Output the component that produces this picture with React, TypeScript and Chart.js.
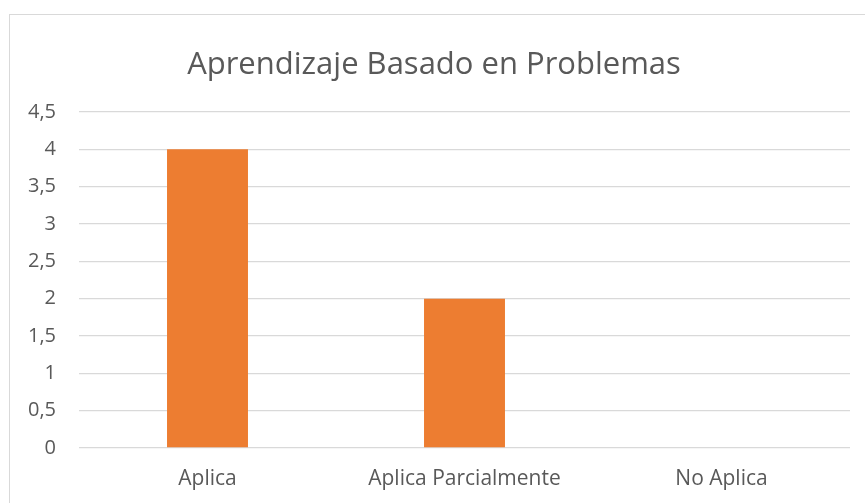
import React, { useEffect, useRef } from "react";
import { Chart, registerables } from "chart.js";

Chart.register(...registerables);

const titleText = "Aprendizaje Basado en Problemas";
const categories = ["Aplica", "Aplica Parcialmente", "No Aplica"];
const values = [4, 2, 0];
const yMin = 0;
const yMax = 4.5;
const yStep = 0.5;

const FONT = '"Open Sans", "Noto Sans", sans-serif';
const TEXT_COLOR = "#595959";
const GRID_COLOR = "#d9d9d9";
const BAR_COLOR = "#ED7D31";

const framePlugin = {
  id: "frame",
  beforeDraw(chart: any) {
    const ctx = chart.ctx;
    ctx.save();
    ctx.fillStyle = "#ffffff";
    ctx.fillRect(0, 0, chart.width, chart.height);
    ctx.strokeStyle = GRID_COLOR;
    ctx.lineWidth = 1;
    ctx.strokeRect(9.5, 14.5, chart.width + 10, chart.height + 10);
    ctx.fillStyle = TEXT_COLOR;
    ctx.font = `31px ${FONT}`;
    ctx.textAlign = "center";
    ctx.textBaseline = "alphabetic";
    ctx.fillText(titleText, 434, 74);
    ctx.restore();
  },
};

export default function App() {
  const ref = useRef<HTMLCanvasElement | null>(null);

  useEffect(() => {
    let chart: Chart | null = null;
    let cancelled = false;
    const make = () => {
      if (cancelled || !ref.current) return;
      chart = new Chart(ref.current, {
        type: "bar",
        data: {
          labels: categories,
          datasets: [
            {
              data: values,
              backgroundColor: BAR_COLOR,
              borderWidth: 0,
              categoryPercentage: 1,
              barPercentage: 0.315,
            },
          ],
        },
        options: {
          responsive: false,
          animation: false,
          devicePixelRatio: 1,
          layout: { padding: { top: 112, right: 15, bottom: 0, left: 0 } },
          plugins: {
            legend: { display: false },
            title: { display: false },
            tooltip: { enabled: false },
          },
          scales: {
            x: {
              afterFit: (s: any) => {
                s.height = 55;
              },
              grid: { display: false, drawTicks: false },
              border: { display: false },
              ticks: {
                color: TEXT_COLOR,
                font: { family: FONT, size: 21 },
                padding: 18,
                maxRotation: 0,
                autoSkip: false,
              },
            },
            y: {
              min: yMin,
              max: yMax,
              afterFit: (s: any) => {
                s.width = 79;
              },
              grid: { color: GRID_COLOR, lineWidth: 1.3, drawTicks: false },
              border: { display: false },
              ticks: {
                stepSize: yStep,
                color: TEXT_COLOR,
                font: { family: FONT, size: 20 },
                padding: 23,
                callback: (v: any) => String(v).replace(".", ","),
              },
            },
          },
        },
        plugins: [framePlugin],
      });
    };
    const fontsAny: any = (document as any).fonts;
    if (fontsAny && fontsAny.load) {
      Promise.all([fontsAny.load(`20px ${FONT}`), fontsAny.load(`31px ${FONT}`)])
        .catch(() => null)
        .then(make);
    } else {
      make();
    }
    return () => {
      cancelled = true;
      if (chart) chart.destroy();
    };
  }, []);

  return (
    <div style={{ position: "fixed", left: 0, top: 0, width: 865, height: 503, background: "#fff" }}>
      <canvas ref={ref} width={865} height={503} style={{ width: 865, height: 503, display: "block" }} />
    </div>
  );
}
